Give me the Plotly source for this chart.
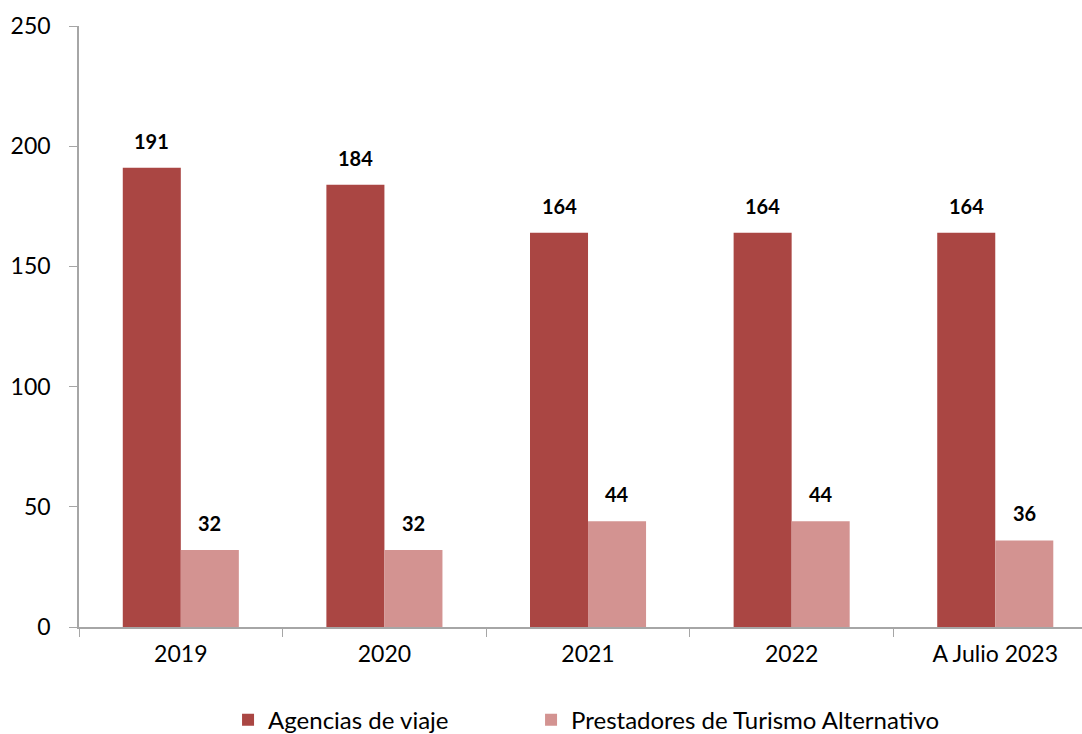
import plotly.graph_objects as go

categories = ["2019", "2020", "2021", "2022", "A Julio 2023"]
agencias = [191, 184, 164, 164, 164]
prestadores = [32, 32, 44, 44, 36]
series_names = ["Agencias de viaje", "Prestadores de Turismo Alternativo"]
series_colors = ["#AA4643", "#D39391"]
y_ticks = [0, 50, 100, 150, 200, 250]

FONT = "Lato"
fig = go.Figure()
for name, vals, col, lg in zip(series_names, [agencias, prestadores], series_colors,
                               ["legend", "legend2"]):
    fig.add_trace(go.Bar(x=categories, y=vals, name=name, legend=lg,
                         marker=dict(color=col, line=dict(width=0))))

# value labels above bars (offset for grouped bars)
for vals, shift in [(agencias, -29), (prestadores, 29)]:
    for i, v in enumerate(vals):
        fig.add_annotation(x=i, y=v, xref="x", yref="y", text=f"<b>{v}</b>",
                           showarrow=False, xshift=shift, yanchor="bottom", yshift=13,
                           font=dict(family=FONT, size=20, color="black"))

legend_common = dict(orientation="h", xanchor="left", yref="container", y=0.019,
                     yanchor="middle", font=dict(family=FONT, size=24), itemwidth=30,
                     bgcolor="rgba(0,0,0,0)")
fig.update_layout(
    width=1082, height=734,
    margin=dict(l=79, r=0, t=26, b=107),
    paper_bgcolor="white", plot_bgcolor="white",
    barmode="group", bargap=0.43, bargroupgap=0,
    font=dict(family=FONT, size=23, color="black"),
    showlegend=True,
    legend=dict(x=0.1486, **legend_common),
    legend2=dict(x=0.4507, **legend_common),
)
fig.update_xaxes(type="category", range=[-0.5, 4.426], showline=True, linecolor="#A6A6A6",
                 linewidth=1.5, ticks="outside", ticklen=8, tickcolor="#A6A6A6",
                 tickson="boundaries", showgrid=False, tickfont=dict(size=23),
                 ticklabelstandoff=6)
fig.update_yaxes(range=[0, 250], tickvals=y_ticks, showline=True, linecolor="#A6A6A6",
                 linewidth=1.5, ticks="outside", ticklen=8, tickcolor="#A6A6A6",
                 showgrid=False, zeroline=False, tickfont=dict(size=23),
                 ticklabelstandoff=14)

fig.write_html("out.html", config={"displayModeBar": False},
               post_script="document.body.style.margin='0';document.body.style.overflow='hidden';")
